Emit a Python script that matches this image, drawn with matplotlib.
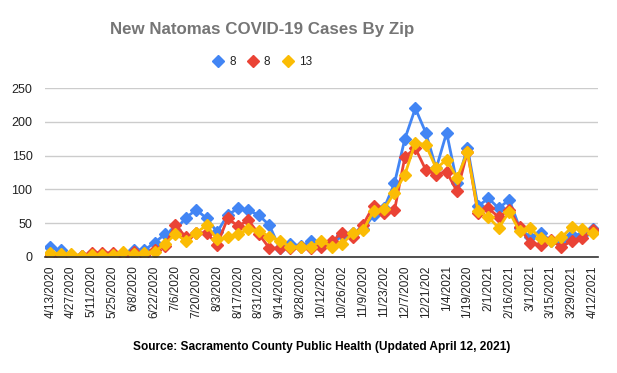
import matplotlib
matplotlib.use('agg')
import matplotlib.pyplot as plt
import numpy as np

plt.rcParams['font.family'] = ['Liberation Sans', 'DejaVu Sans']

# weekly new cases, 4/13/2020 .. 4/12/2021
zip_a = [15, 10, 3, 2, 1, 1, 1, 1, 10, 10, 21, 34, 40, 58, 70, 57, 37, 62, 72, 69,
         62, 47, 13, 19, 16, 23, 18, 18, 33, 35, 41, 62, 72, 109, 175, 220, 184, 131, 184, 109,
         162, 75, 87, 72, 85, 43, 29, 36, 24, 20, 33, 33, 41]
zip_b = [3, 2, 1, 1, 6, 6, 6, 1, 8, 3, 11, 16, 48, 29, 35, 36, 18, 57, 46, 54,
         34, 13, 13, 13, 15, 13, 15, 23, 36, 30, 48, 76, 65, 69, 148, 161, 129, 122, 126, 97,
         156, 65, 72, 59, 70, 44, 21, 18, 25, 15, 24, 28, 40]
zip_c = [6, 5, 4, 2, 3, 3, 3, 8, 4, 6, 8, 19, 34, 24, 36, 47, 26, 29, 34, 41,
         39, 30, 24, 15, 15, 15, 24, 15, 19, 36, 40, 68, 71, 95, 122, 169, 166, 131, 144, 117,
         155, 68, 59, 43, 67, 38, 43, 28, 23, 29, 44, 42, 35]
series_labels = ['8', '8', '13']
tick_labels = ['4/13/2020', '4/27/2020', '5/11/2020', '5/25/2020', '6/8/2020', '6/22/2020',
               '7/6/2020', '7/20/2020', '8/3/2020', '8/17/2020', '8/31/2020', '9/14/2020',
               '9/28/2020', '10/12/202', '10/26/202', '11/9/2020', '11/23/202', '12/7/2020',
               '12/21/202', '1/4/2021', '1/19/2020', '2/1/2021', '2/16/2021', '3/1/2021',
               '3/15/2021', '3/29/2021', '4/12/2021']

colors = ['#4285F4', '#EA4335', '#FBBC04']

fig = plt.figure(figsize=(6.17, 3.73), dpi=100)
ax = fig.add_axes([0.073, 0.311, 0.896, 0.453])

x = np.arange(len(zip_a))
for vals, col, lab in zip([zip_a, zip_b, zip_c], colors, series_labels):
    ax.plot(x, vals, color=col, lw=2, marker='D', ms=6.5, mec=col, mfc=col, label=lab)

ax.set_xlim(-0.5, len(x) - 0.5)
ax.set_ylim(0, 250)
ax.set_yticks(np.arange(0, 251, 50))
ax.set_xticks(x[::2])
ax.set_xticklabels(tick_labels, rotation=90, fontsize=8.5, color='#222222')
ax.tick_params(axis='y', labelsize=9, colors='#222222', length=0, pad=9)
ax.tick_params(axis='x', length=0, pad=6)
ax.grid(axis='y', color='#cccccc', lw=1)
ax.set_axisbelow(True)
for s in ['top', 'right', 'left']:
    ax.spines[s].set_visible(False)
ax.spines['bottom'].set_color('#333333')
ax.spines['bottom'].set_linewidth(1.2)

fig.text(0.425, 0.92, 'New Natomas COVID-19 Cases By Zip', ha='center', va='center',
         fontsize=12.2, fontweight='bold', color='#757575')
fig.legend(loc='center', bbox_to_anchor=(0.425, 0.833), ncol=3, frameon=False,
           fontsize=8.5, handlelength=0.9, handletextpad=0.5, columnspacing=1.0,
           labelcolor='#222222')
for h in fig.legends[0].get_lines():
    h.set_linestyle('none')
fig.text(0.522, 0.07, 'Source: Sacramento County Public Health (Updated April 12, 2021)',
         ha='center', va='center', fontsize=8.6, fontweight='bold', color='#000000')

plt.savefig('out.png', dpi=100)
